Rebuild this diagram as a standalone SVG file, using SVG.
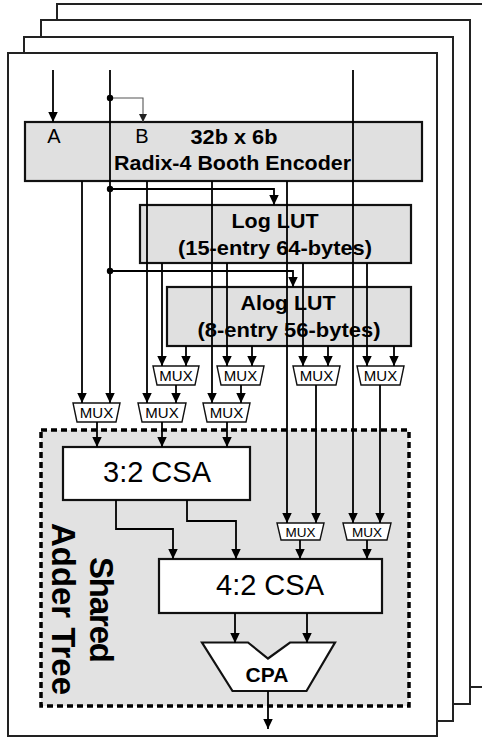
<svg xmlns="http://www.w3.org/2000/svg" width="482" height="738" viewBox="0 0 482 738">
<defs>
<marker id="ah" markerUnits="userSpaceOnUse" markerWidth="11" markerHeight="10" refX="10" refY="4.75" orient="auto"><path d="M0,0 L10,4.75 L0,9.5 z" fill="#000"/></marker>
<marker id="ahg" markerUnits="userSpaceOnUse" markerWidth="10" markerHeight="10" refX="8" refY="4" orient="auto"><path d="M0,0 L8,4 L0,8 z" fill="#222"/></marker>
</defs>
<style>
.frame{fill:#fff;stroke:#222;stroke-width:2}
.box{fill:#e0e0e0;stroke:#111;stroke-width:2.2}
.wbox{fill:#fff;stroke:#111;stroke-width:2.2}
.mux{fill:#fff;stroke:#111;stroke-width:1.4}
.w{fill:none;stroke:#000;stroke-width:1.8}
.wa{fill:none;stroke:#000;stroke-width:1.8;marker-end:url(#ah)}
.g{fill:none;stroke:#555;stroke-width:1.1;marker-end:url(#ahg)}
.dot{fill:#000}
.b{font-family:"Liberation Sans",Arial,sans-serif;font-weight:bold;fill:#000;text-anchor:middle}
.r{font-family:"Liberation Sans",Arial,sans-serif;fill:#000;text-anchor:middle}
.mt{font-family:"Liberation Sans",Arial,sans-serif;fill:#000;text-anchor:middle;font-size:15px}
</style>
<g id="frames">
<rect class="frame" x="57" y="4" width="440" height="683"/>
<rect class="frame" x="41" y="20" width="429" height="684"/>
<rect class="frame" x="24" y="37" width="429" height="684"/>
<rect class="frame" x="8" y="53" width="429" height="683"/>
</g>
<g id="adder-tree">
<rect x="41" y="430" width="368" height="276" fill="#e2e2e2" stroke="#000" stroke-width="3.5" stroke-dasharray="6 4"/>
<text class="b" font-size="33" transform="translate(90,610) rotate(90)" textLength="106">Shared</text>
<text class="b" font-size="33" transform="translate(52,609) rotate(90)" textLength="172">Adder Tree</text>
</g>
<g id="encoder">
<rect class="box" x="25" y="122" width="397" height="59"/>
<text class="r" font-size="20" x="54" y="143">A</text>
<text class="r" font-size="20" x="142" y="143">B</text>
<text class="b" font-size="19.5" x="234" y="144" textLength="87" lengthAdjust="spacingAndGlyphs">32b x 6b</text>
<text class="b" font-size="19.5" x="232.5" y="170" textLength="237" lengthAdjust="spacingAndGlyphs">Radix-4 Booth Encoder</text>
</g>
<g id="log-lut">
<rect class="box" x="140" y="205" width="271" height="58"/>
<text class="b" font-size="20.5" x="275" y="228" textLength="87" lengthAdjust="spacingAndGlyphs">Log LUT</text>
<text class="b" font-size="20.5" x="275" y="255" textLength="194" lengthAdjust="spacingAndGlyphs">(15-entry 64-bytes)</text>
</g>
<g id="alog-lut">
<rect class="box" x="167" y="287" width="244" height="59"/>
<text class="b" font-size="20.5" x="288" y="310" textLength="95" lengthAdjust="spacingAndGlyphs">Alog LUT</text>
<text class="b" font-size="20.5" x="289" y="337" textLength="183" lengthAdjust="spacingAndGlyphs">(8-entry 56-bytes)</text>
</g>
<g id="csa32">
<rect class="wbox" x="63" y="447" width="187" height="53"/>
<text class="r" font-size="29" x="157" y="482">3:2 CSA</text>
</g>
<g id="csa42">
<rect class="wbox" x="159" y="559" width="223" height="54"/>
<text class="r" font-size="29" x="270" y="595">4:2 CSA</text>
</g>
<g id="cpa">
<path class="wbox" d="M202,642.5 L248,642.5 L268,658.5 L290,642.5 L335,642.5 L306.5,691 L232.5,691 Z"/>
<text class="b" font-size="21" x="267" y="682">CPA</text>
</g>
<g id="mux-u1"><path class="mux" d="M153,366 L199,366 L195,385 L157,385 Z"/><text class="mt" x="176" y="381">MUX</text></g>
<g id="mux-u2"><path class="mux" d="M217,366 L264,366 L260,385 L221,385 Z"/><text class="mt" x="240.5" y="381">MUX</text></g>
<g id="mux-u3"><path class="mux" d="M293,366 L340,366 L336,385 L297,385 Z"/><text class="mt" x="316.5" y="381">MUX</text></g>
<g id="mux-u4"><path class="mux" d="M357,366 L404,366 L400,385 L361,385 Z"/><text class="mt" x="380.5" y="381">MUX</text></g>
<g id="mux-b1"><path class="mux" d="M73,403 L120,403 L116,422 L77,422 Z"/><text class="mt" x="96.5" y="418">MUX</text></g>
<g id="mux-b2"><path class="mux" d="M138,403 L186,403 L182,422 L142,422 Z"/><text class="mt" x="162" y="418">MUX</text></g>
<g id="mux-b3"><path class="mux" d="M203,403 L250,403 L246,422 L207,422 Z"/><text class="mt" x="226.5" y="418">MUX</text></g>
<g id="mux-l1"><path class="mux" d="M277,523 L324,523 L320,540 L281,540 Z"/><text class="mt" x="300.5" y="537" style="font-size:13.5px">MUX</text></g>
<g id="mux-l2"><path class="mux" d="M343,523 L391,523 L387,540 L347,540 Z"/><text class="mt" x="367" y="537" style="font-size:13.5px">MUX</text></g>
<g id="connectors">
<line class="wa" x1="53" y1="70" x2="53" y2="122"/>
<line class="wa" x1="110" y1="70" x2="110" y2="403"/>
<line class="wa" x1="353" y1="70" x2="353" y2="523"/>
<polyline class="g" points="110,98 143,98 143,122"/>
<circle class="dot" cx="110" cy="98" r="3.2"/>
<line class="wa" x1="82" y1="181" x2="82" y2="403"/>
<line class="wa" x1="147" y1="181" x2="147" y2="403"/>
<line class="wa" x1="212" y1="181" x2="212" y2="403"/>
<line class="wa" x1="287" y1="181" x2="287" y2="523"/>
<polyline class="wa" points="110,189 274,189 274,205"/>
<circle class="dot" cx="110" cy="189" r="3.2"/>
<polyline class="wa" points="110,271 293,271 293,287"/>
<circle class="dot" cx="110" cy="271" r="3.2"/>
<line class="wa" x1="162" y1="263" x2="162" y2="366"/>
<line class="wa" x1="227" y1="263" x2="227" y2="366"/>
<line class="wa" x1="303" y1="263" x2="303" y2="366"/>
<line class="wa" x1="367" y1="263" x2="367" y2="366"/>
<line class="wa" x1="186" y1="346" x2="186" y2="366"/>
<line class="wa" x1="252" y1="346" x2="252" y2="366"/>
<line class="wa" x1="328" y1="346" x2="328" y2="366"/>
<line class="wa" x1="394" y1="346" x2="394" y2="366"/>
<line class="wa" x1="176" y1="385" x2="176" y2="403"/>
<line class="wa" x1="241" y1="385" x2="241" y2="403"/>
<line class="wa" x1="316" y1="385" x2="316" y2="523"/>
<line class="wa" x1="380" y1="385" x2="380" y2="523"/>
<line class="wa" x1="97" y1="422" x2="97" y2="447"/>
<line class="wa" x1="162" y1="422" x2="162" y2="447"/>
<line class="wa" x1="227" y1="422" x2="227" y2="447"/>
<polyline class="wa" points="116,500 116,529 173,529 173,559"/>
<polyline class="wa" points="187,500 187,521 236,521 236,559"/>
<line class="wa" x1="300" y1="540" x2="300" y2="559"/>
<line class="wa" x1="367" y1="540" x2="367" y2="559"/>
<line class="wa" x1="235" y1="613" x2="235" y2="643"/>
<line class="wa" x1="307" y1="613" x2="307" y2="643"/>
<line class="wa" x1="268" y1="691" x2="268" y2="729"/>
</g>
</svg>
